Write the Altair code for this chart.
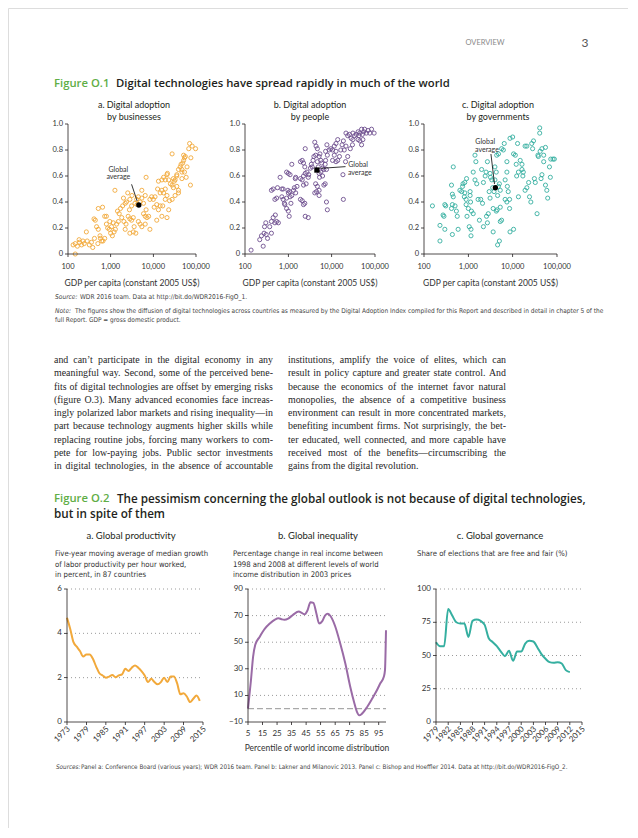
import altair as alt
import pandas as pd

# ---------------------------------------------------------------- page frame
W, H = 620, 820
M = 8  # page margin of the html body

SANS = "Lato, 'Open Sans', sans-serif"
HEAD = "'Open Sans', Lato, sans-serif"
NARROW = "'Liberation Sans Narrow', 'DejaVu Sans Condensed', sans-serif"
SERIF = "'Liberation Serif', 'Times New Roman', serif"

GREEN = "#5FAE46"
INK = "#231F20"
ORANGE = "#F2A93B"
PURPLE_PT = "#6E4F8E"
PURPLE_LN = "#9A6BA6"
TEAL = "#35AFA0"

# ---------------------------------------------------------------- data: Figure O.1
# log10 of GDP per capita (constant 2005 US$) and Digital Adoption Index subindex
A_LOGGDP = [2.17, 2.12, 2.17, 2.22, 2.27, 2.32, 2.35, 2.38, 2.26, 2.45, 2.50, 2.55, 2.43, 2.64, 2.61,
            2.67, 2.71, 2.75, 2.79, 2.70, 2.76, 2.82, 2.71, 2.81, 2.86, 2.90, 2.90, 2.93, 2.97, 3.00,
            3.04, 3.08, 3.11, 3.02, 3.06, 3.14, 3.18, 2.98, 3.10, 3.20, 3.23, 3.28, 3.34, 3.37, 3.26,
            3.31, 3.36, 3.34, 3.41, 3.45, 3.49, 3.53, 3.40, 3.45, 3.49, 3.44, 3.45, 3.53, 3.59, 3.55,
            3.65, 3.69, 3.73, 3.81, 3.61, 3.65, 3.69, 3.73, 3.77, 3.81, 3.83, 3.73, 3.77, 3.81, 3.85,
            3.89, 3.83, 3.92, 3.96, 4.00, 4.04, 4.08, 4.12, 4.16, 4.20, 4.22, 3.92, 4.08, 4.10, 4.16,
            4.20, 4.24, 4.28, 4.32, 4.28, 4.20, 4.24, 4.28, 4.32, 4.12, 4.36, 4.40, 4.44, 4.47, 4.49,
            4.55, 4.59, 4.51, 4.44, 4.38, 4.32, 4.36, 4.33, 4.44, 4.47, 4.55, 4.59, 4.63, 4.67, 4.65,
            4.69, 4.71, 4.73, 4.75, 4.71, 4.67, 4.73, 4.77, 4.83, 4.85, 4.91, 4.99, 4.88, 4.87, 4.79,
            4.55, 4.67, 4.51, 4.59, 2.58, 2.62, 2.86, 3.57, 3.62, 4.02, 3.16, 3.30, 3.50]
A_SCORE = [0.00, 0.07, 0.08, 0.06, 0.09, 0.07, 0.10, 0.08, 0.11, 0.10, 0.07, 0.09, 0.17, 0.26, 0.27,
           0.21, 0.19, 0.14, 0.10, 0.08, 0.12, 0.10, 0.35, 0.36, 0.29, 0.29, 0.23, 0.20, 0.19, 0.16,
           0.14, 0.17, 0.19, 0.21, 0.24, 0.23, 0.25, 0.25, 0.49, 0.31, 0.35, 0.37, 0.39, 0.40, 0.28,
           0.25, 0.23, 0.19, 0.29, 0.27, 0.26, 0.28, 0.47, 0.42, 0.37, 0.34, 0.16, 0.17, 0.16, 0.21,
           0.25, 0.23, 0.21, 0.23, 0.42, 0.44, 0.40, 0.43, 0.39, 0.45, 0.59, 0.49, 0.31, 0.29, 0.28,
           0.29, 0.34, 0.42, 0.44, 0.42, 0.44, 0.38, 0.34, 0.37, 0.29, 0.37, 0.19, 0.26, 0.50, 0.47,
           0.49, 0.47, 0.50, 0.45, 0.42, 0.57, 0.59, 0.57, 0.61, 0.56, 0.57, 0.54, 0.53, 0.51, 0.56,
           0.52, 0.49, 0.45, 0.42, 0.41, 0.28, 0.34, 0.62, 0.77, 0.58, 0.60, 0.65, 0.67, 0.65, 0.69,
           0.70, 0.72, 0.74, 0.75, 0.76, 0.63, 0.63, 0.59, 0.81, 0.85, 0.83, 0.81, 0.74, 0.53, 0.67,
           0.61, 0.58, 0.57, 0.47, 0.05, 0.12, 0.12, 0.39, 0.38, 0.36, 0.33, 0.43, 0.45]

B_LOGGDP = [2.14, 2.42, 2.34, 2.38, 2.44, 2.49, 2.45, 2.48, 2.52, 2.57, 2.61, 2.61, 2.65, 2.69, 2.70,
            2.73, 2.77, 2.61, 2.65, 2.69, 2.73, 2.75, 2.81, 2.85, 2.88, 2.85, 2.88, 2.91, 2.92, 2.96,
            2.99, 3.00, 3.03, 3.04, 3.06, 3.08, 3.12, 3.14, 3.17, 3.20, 3.16, 3.17, 2.96, 3.00, 3.04,
            3.08, 3.00, 3.02, 2.96, 3.28, 3.32, 3.35, 3.38, 3.39, 3.28, 3.32, 3.38, 3.28, 3.32, 3.35,
            3.39, 3.35, 3.41, 3.43, 3.46, 3.47, 3.51, 3.53, 3.55, 3.57, 3.59, 3.61, 3.64, 3.67, 3.63,
            3.67, 3.69, 3.71, 3.73, 3.75, 3.77, 3.79, 3.71, 3.72, 3.75, 3.79, 3.82, 3.85, 3.86, 3.88,
            3.90, 3.86, 3.63, 3.67, 3.71, 3.65, 3.61, 3.71, 3.82, 3.46, 3.39, 3.35, 3.89, 3.94, 3.98,
            4.02, 4.06, 4.10, 4.14, 4.10, 4.06, 4.02, 4.10, 4.14, 4.18, 4.21, 4.24, 4.27, 4.29, 4.33,
            4.37, 4.32, 4.33, 4.37, 4.41, 4.45, 4.49, 4.53, 4.57, 4.61, 4.63, 4.65, 4.69, 4.71, 4.74,
            4.76, 4.80, 4.84, 4.88, 4.92, 4.98, 4.61, 4.65, 4.69, 4.72, 4.49, 4.48, 4.43, 4.26, 4.27,
            3.88, 3.90, 3.85]
B_SCORE = [0.03, 0.06, 0.11, 0.14, 0.16, 0.15, 0.21, 0.24, 0.12, 0.21, 0.16, 0.25, 0.28, 0.24, 0.30,
           0.25, 0.24, 0.49, 0.50, 0.42, 0.43, 0.51, 0.59, 0.50, 0.50, 0.44, 0.42, 0.39, 0.38, 0.43,
           0.49, 0.47, 0.48, 0.44, 0.39, 0.45, 0.49, 0.51, 0.47, 0.52, 0.58, 0.59, 0.63, 0.62, 0.61,
           0.69, 0.33, 0.29, 0.35, 0.71, 0.72, 0.70, 0.67, 0.81, 0.42, 0.41, 0.39, 0.58, 0.57, 0.60,
           0.62, 0.53, 0.54, 0.63, 0.59, 0.61, 0.66, 0.69, 0.67, 0.72, 0.75, 0.86, 0.83, 0.81, 0.76,
           0.71, 0.67, 0.75, 0.77, 0.72, 0.70, 0.66, 0.62, 0.59, 0.63, 0.60, 0.65, 0.69, 0.72, 0.65,
           0.76, 0.79, 0.54, 0.52, 0.49, 0.48, 0.47, 0.45, 0.53, 0.28, 0.29, 0.38, 0.84, 0.80, 0.81,
           0.80, 0.83, 0.85, 0.88, 0.79, 0.76, 0.72, 0.71, 0.72, 0.75, 0.80, 0.84, 0.87, 0.80, 0.83,
           0.75, 0.71, 0.93, 0.91, 0.92, 0.89, 0.93, 0.91, 0.92, 0.94, 0.91, 0.93, 0.96, 0.92, 0.94,
           0.96, 0.93, 0.95, 0.93, 0.96, 0.93, 0.88, 0.87, 0.84, 0.88, 0.88, 0.84, 0.81, 0.61, 0.42,
           0.40, 0.34, 0.54]

C_LOGGDP = [2.19, 2.36, 2.36, 2.43, 2.45, 2.47, 2.49, 2.47, 2.62, 2.64, 2.66, 2.64, 2.62, 2.66, 2.64,
            2.70, 2.73, 2.75, 2.77, 2.81, 2.85, 2.87, 2.88, 2.91, 2.92, 2.95, 2.92, 2.96, 2.97, 2.95,
            3.00, 3.04, 3.04, 3.05, 3.02, 3.06, 3.06, 3.07, 3.11, 3.11, 3.15, 3.15, 3.19, 3.17, 3.22,
            3.25, 3.28, 3.30, 3.32, 3.34, 3.34, 3.38, 3.40, 3.43, 3.41, 3.43, 3.45, 3.47, 3.49, 3.50,
            3.49, 3.53, 3.55, 3.56, 3.58, 3.60, 3.60, 3.63, 3.63, 3.65, 3.66, 3.68, 3.70, 3.72, 3.72,
            3.64, 3.68, 3.75, 3.79, 3.81, 3.83, 3.87, 3.87, 3.88, 3.90, 3.93, 3.93, 3.94, 4.00, 4.02,
            4.06, 4.08, 4.09, 4.11, 4.13, 4.17, 4.21, 4.21, 4.23, 4.24, 4.28, 4.32, 4.28, 4.32, 4.36,
            4.38, 4.41, 4.43, 4.45, 4.47, 4.49, 4.51, 4.55, 4.57, 4.58, 4.61, 4.61, 4.62, 4.64, 4.66,
            4.66, 4.70, 4.70, 4.74, 4.74, 4.77, 4.79, 4.83, 4.85, 4.86, 4.91, 4.94, 4.02, 3.66, 3.70,
            3.75, 3.72, 3.83, 3.87, 4.13, 3.94, 3.56]
C_SCORE = [0.37, 0.10, 0.22, 0.30, 0.29, 0.38, 0.37, 0.19, 0.53, 0.46, 0.44, 0.38, 0.35, 0.67, 0.15,
           0.37, 0.33, 0.29, 0.19, 0.49, 0.48, 0.52, 0.54, 0.44, 0.47, 0.42, 0.55, 0.58, 0.29, 0.38,
           0.35, 0.45, 0.48, 0.40, 0.21, 0.19, 0.14, 0.33, 0.31, 0.63, 0.76, 0.57, 0.54, 0.71, 0.42,
           0.26, 0.42, 0.65, 0.39, 0.21, 0.55, 0.60, 0.63, 0.71, 0.29, 0.24, 0.31, 0.48, 0.43, 0.59,
           0.62, 0.57, 0.51, 0.35, 0.48, 0.57, 0.67, 0.63, 0.33, 0.34, 0.45, 0.52, 0.54, 0.49, 0.36,
           0.76, 0.77, 0.81, 0.80, 0.85, 0.57, 0.63, 0.71, 0.52, 0.48, 0.42, 0.35, 0.89, 0.90, 0.77,
           0.76, 0.69, 0.60, 0.85, 0.63, 0.72, 0.69, 0.65, 0.60, 0.63, 0.49, 0.51, 0.83, 0.83, 0.55,
           0.44, 0.40, 0.85, 0.81, 0.87, 0.58, 0.55, 0.31, 0.76, 0.75, 0.97, 0.93, 0.79, 0.58, 0.61,
           0.81, 0.71, 0.76, 0.82, 0.53, 0.49, 0.43, 0.67, 0.59, 0.73, 0.73, 0.73, 0.19, 0.07, 0.10,
           0.26, 0.25, 0.42, 0.40, 0.44, 0.17, 0.17]

# global averages (log10 GDP, score) and their callouts
AVG = {"a": (3.66, 0.377), "b": (3.66, 0.646), "c": (3.61, 0.51)}
AVG_LABEL_POS = {"a": [(3.18, 0.646), (3.18, 0.590)],
                 "b": [(4.61, 0.685), (4.65, 0.623)],
                 "c": [(3.38, 0.860), (3.42, 0.800)]}
AVG_ARROW = {"a": (3.49, 0.536, 3.62, 0.408),
             "b": (4.32, 0.672, 3.75, 0.659),
             "c": (3.51, 0.769, 3.59, 0.538)}
AVG_LABEL_TEXT = ["Global", "average"]

O1_XTICKS = [2, 3, 4, 5]
O1_XLABELS = ["100", "1,000", "10,000", "100,000"]
O1_YTICKS = [0, 0.2, 0.4, 0.6, 0.8, 1.0]
O1_YLABELS = ["0", "0.2", "0.4", "0.6", "0.8", "1.0"]

# ---------------------------------------------------------------- data: Figure O.2
PROD_YEAR = list(range(1973, 2015))
PROD_GROWTH = [4.7, 4.2, 3.6, 3.4, 3.2, 2.95, 3.05, 3.05, 2.85, 2.5, 2.2, 2.1, 2.0, 2.05, 2.12,
               2.02, 2.1, 2.15, 2.4, 2.3, 2.45, 2.55, 2.45, 2.3, 2.1, 1.8, 1.95, 1.8, 1.7, 1.8,
               2.0, 1.8, 2.05, 2.05, 1.75, 1.25, 1.3, 1.15, 0.9, 1.05, 1.2, 0.95]
PROD_XTICKS = [1973, 1979, 1985, 1991, 1997, 2003, 2009, 2015]
PROD_YTICKS = [0, 2, 4, 6]

INEQ_PCTILE = [5, 7, 8.5, 10, 13, 16.5, 20, 23.5, 26, 28, 30, 33, 36, 40, 42, 44, 46, 48, 50, 52,
               54, 56, 58, 60, 62, 65, 68.5, 72, 75.5, 78, 80, 81.6, 83.5, 87, 90.5, 94, 96, 98.5,
               99.3, 100]
INEQ_GAIN = [0, 21, 39, 48, 54, 60, 64, 67, 68, 67.3, 66.8, 68, 70.6, 73, 72, 71, 74, 80, 79.5, 72,
             64, 65.6, 70, 71.4, 69.3, 62, 49, 34, 16, 5, -2.4, -5, -3.7, 1.3, 7.6, 14.4, 19, 24,
             29, 59]
INEQ_XTICKS = [5, 15, 25, 35, 45, 55, 65, 75, 85, 95]
INEQ_YTICKS = [-10, 10, 30, 50, 70, 90]

GOV_YEAR = list(range(1979, 2013))
GOV_SHARE = [60, 57, 57, 85, 80, 75, 74, 74, 64, 76, 77, 76, 73, 63, 60, 57, 53, 49.5, 53.5, 46,
             53, 53, 59, 61, 60.5, 56, 51, 47.5, 45, 44.5, 45, 44, 39, 37.5]
GOV_XTICKS = list(range(1979, 2016, 3))
GOV_YTICKS = [0, 25, 50, 75, 100]

# ---------------------------------------------------------------- text content
FIG1_TITLE = "Digital technologies have spread rapidly in much of the world"
FIG1_PANELS = [["a. Digital adoption", "by businesses"],
               ["b. Digital adoption", "by people"],
               ["c. Digital adoption", "by governments"]]
SOURCE1 = "WDR 2016 team. Data at http://bit.do/WDR2016-FigO_1."
NOTE1 = ["The figures show the diffusion of digital technologies across countries as measured by the "
         "Digital Adoption Index compiled for this Report and described in detail in chapter 5 of the",
         "full Report. GDP = gross domestic product."]
BODY_LEFT = ["and can\u2019t participate in the digital economy in any",
             "meaningful way. Second, some of the perceived bene-",
             "fits of digital technologies are offset by emerging risks",
             "(figure O.3). Many advanced economies face increas-",
             "ingly polarized labor markets and rising inequality\u2014in",
             "part because technology augments higher skills while",
             "replacing routine jobs, forcing many workers to com-",
             "pete for low-paying jobs. Public sector investments",
             "in digital technologies, in the absence of accountable"]
BODY_RIGHT = ["institutions, amplify the voice of elites, which can",
              "result in policy capture and greater state control. And",
              "because the economics of the internet favor natural",
              "monopolies, the absence of a competitive business",
              "environment can result in more concentrated markets,",
              "benefiting incumbent firms. Not surprisingly, the bet-",
              "ter educated, well connected, and more capable have",
              "received most of the benefits\u2014circumscribing the",
              "gains from the digital revolution."]
FIG2_TITLE = ["The pessimism concerning the global outlook is not because of digital technologies,",
              "but in spite of them"]
FIG2_PANELS = ["a. Global productivity", "b. Global inequality", "c. Global governance"]
FIG2_DESC = [["Five-year moving average of median growth",
              "of labor productivity per hour worked,",
              "in percent, in 87 countries"],
             ["Percentage change in real income between",
              "1998 and 2008 at different levels of world",
              "income distribution in 2003 prices"],
             ["Share of elections that are free and fair (%)"]]
SOURCES2 = ("Panel a: Conference Board (various years); WDR 2016 team. Panel b: Lakner and Milanovic 2013. "
            "Panel c: Bishop and Hoeffler 2014. Data at http://bit.do/WDR2016-FigO_2.")

# ---------------------------------------------------------------- helpers
ONE = alt.Data(values=[{"k": 0}])


def text(x, y, s, size, font=SANS, color=INK, weight="normal", style="normal", align="left"):
    return alt.Chart(ONE).mark_text(
        text=s, fontSize=size, font=font, color=color, fontWeight=weight,
        fontStyle=style, align=align, baseline="middle"
    ).encode(x=alt.value(x - M), y=alt.value(y - M))


# Times-compatible advance widths (1/1000 em) for laying out justified serif body text
_TNR = {" ": 250, "!": 333, "'": 180, "(": 333, ")": 333, ",": 250, "-": 333, ".": 250, "/": 278,
        ":": 278, ";": 278, "?": 444, "\u2019": 333, "\u2014": 1000,
        "A": 722, "B": 667, "C": 667, "D": 722, "E": 611, "F": 556, "G": 722, "H": 722, "I": 333,
        "J": 389, "K": 722, "L": 611, "M": 889, "N": 722, "O": 722, "P": 556, "Q": 722, "R": 667,
        "S": 556, "T": 611, "U": 722, "V": 722, "W": 944, "X": 722, "Y": 722, "Z": 611,
        "a": 444, "b": 500, "c": 444, "d": 500, "e": 444, "f": 333, "g": 500, "h": 500, "i": 278,
        "j": 278, "k": 500, "l": 278, "m": 778, "n": 500, "o": 500, "p": 500, "q": 500, "r": 333,
        "s": 389, "t": 278, "u": 500, "v": 500, "w": 722, "x": 500, "y": 500, "z": 444}


def _wwidth(word, fs):
    return sum(_TNR.get(ch, 500) for ch in word) * fs / 1000.0


def justified_column(lines, x_left, col_w, y0, dy, fs, last_ragged=False):
    rows = []
    for i, line in enumerate(lines):
        words = line.split(" ")
        widths = [_wwidth(w, fs) for w in words]
        ragged = last_ragged and i == len(lines) - 1
        gap = 0.25 * fs if (ragged or len(words) < 2) else (col_w - sum(widths)) / (len(words) - 1)
        x = x_left
        for w, wd in zip(words, widths):
            rows.append({"word": w, "px": x - M, "py": y0 + i * dy - M})
            x += wd + gap
    df = pd.DataFrame(rows)
    return alt.Chart(df).mark_text(align="left", baseline="middle", font=SERIF, fontSize=fs,
                                   color="#262626").encode(
        x=alt.X("px:Q", scale=None, axis=None), y=alt.Y("py:Q", scale=None, axis=None),
        text="word:N")


def axis_layers(xs, ys, xdom, ydom, xt, xl, yt, yl, xsize, ysize, rotate=False, xlab_off=13,
                title=None, title_x=None, title_off=29):
    def XD(v):
        return alt.XDatum(v, type="quantitative", scale=xs, axis=None)

    def YD(v):
        return alt.YDatum(v, type="quantitative", scale=ys, axis=None)

    out = []
    out.append(alt.Chart(ONE).mark_rule(color=INK, strokeWidth=0.8).encode(
        x=XD(xdom[0]), x2=alt.X2Datum(xdom[1]), y=YD(ydom[0])))
    out.append(alt.Chart(ONE).mark_rule(color=INK, strokeWidth=0.8).encode(
        x=XD(xdom[0]), y=YD(ydom[0]), y2=alt.Y2Datum(ydom[1])))
    xdf = pd.DataFrame({"tick": xt, "label": xl})
    ydf = pd.DataFrame({"tick": yt, "label": yl})
    out.append(alt.Chart(xdf).mark_tick(orient="vertical", size=3, thickness=0.8, yOffset=1.5,
                                        color=INK, opacity=1).encode(
        x=alt.X("tick:Q", scale=xs, axis=None), y=YD(ydom[0])))
    out.append(alt.Chart(ydf).mark_tick(orient="horizontal", size=3, thickness=0.8, xOffset=-1.5,
                                        color=INK, opacity=1).encode(
        y=alt.Y("tick:Q", scale=ys, axis=None), x=XD(xdom[0])))
    if rotate:
        xlab = alt.Chart(xdf).mark_text(angle=315, align="right", baseline="middle", xOffset=2,
                                        yOffset=6, fontSize=xsize, font=SANS, color="#333333")
    else:
        xlab = alt.Chart(xdf).mark_text(align="center", baseline="middle", yOffset=xlab_off,
                                        fontSize=xsize, font=SANS, color="#333333")
    out.append(xlab.encode(x=alt.X("tick:Q", scale=xs, axis=None), y=YD(ydom[0]), text="label:N"))
    out.append(alt.Chart(ydf).mark_text(align="right", baseline="middle", xOffset=-5, fontSize=ysize,
                                        font=SANS, color="#333333").encode(
        y=alt.Y("tick:Q", scale=ys, axis=None), x=XD(xdom[0]), text="label:N"))
    if title:
        out.append(alt.Chart(ONE).mark_text(text=title, align="center", baseline="middle",
                                            yOffset=title_off, fontSize=8.5, font=SANS,
                                            color="#333333").encode(
            x=XD(title_x), y=YD(ydom[0])))
    return out


def scatter_panel(key, lg, sc, color, x0, x1, shape):
    y_top, y_bot = 124, 254
    xs = alt.Scale(domain=[2, 5], range=[x0 - M, x1 - M], nice=False, zero=False)
    ys = alt.Scale(domain=[0, 1], range=[y_bot - M, y_top - M], nice=False, zero=False)
    df = pd.DataFrame({"log10_gdp": lg, "score": sc})
    pts = alt.Chart(df).mark_point(filled=False, size=17, strokeWidth=0.9, color=color, opacity=1).encode(
        x=alt.X("log10_gdp:Q", scale=xs, axis=None),
        y=alt.Y("score:Q", scale=ys, axis=None))
    ax, ay = AVG[key]
    avg_df = pd.DataFrame({"log10_gdp": [ax], "score": [ay]})
    avg = alt.Chart(avg_df).mark_point(filled=True, size=28, color="black", shape=shape, opacity=1).encode(
        x=alt.X("log10_gdp:Q", scale=xs, axis=None), y=alt.Y("score:Q", scale=ys, axis=None))
    sx, sy, ex, ey = AVG_ARROW[key]
    arr_df = pd.DataFrame({"x1": [sx], "y1": [sy], "x2": [ex], "y2": [ey]})
    arrow = alt.Chart(arr_df).mark_rule(color="black", strokeWidth=0.8).encode(
        x=alt.X("x1:Q", scale=xs, axis=None), y=alt.Y("y1:Q", scale=ys, axis=None),
        x2="x2:Q", y2="y2:Q")
    lab_df = pd.DataFrame({"log10_gdp": [p[0] for p in AVG_LABEL_POS[key]],
                           "score": [p[1] for p in AVG_LABEL_POS[key]],
                           "label": AVG_LABEL_TEXT})
    labels = alt.Chart(lab_df).mark_text(fontSize=7, font=SANS, color="#333333", align="center",
                                         baseline="middle").encode(
        x=alt.X("log10_gdp:Q", scale=xs, axis=None), y=alt.Y("score:Q", scale=ys, axis=None),
        text="label:N")
    axes = axis_layers(xs, ys, [2, 5], [0, 1], O1_XTICKS, O1_XLABELS, O1_YTICKS, O1_YLABELS,
                       7.5, 7.5, xlab_off=13, title="GDP per capita (constant 2005 US$)",
                       title_x=3.5, title_off=29)
    return alt.layer(pts, arrow, avg, labels, *axes)


def fmt_num(v):
    return ("\u2212" + str(abs(v))) if v < 0 else str(v)


def line_panel(xvals, yvals, xname, yname, color, x0, x1, xdom, ydom, xticks, yticks, rotate,
               xtitle=None, zero_line=False):
    y_top, y_bot = 589, 722
    xs = alt.Scale(domain=xdom, range=[x0 - M, x1 - M], nice=False, zero=False)
    ys = alt.Scale(domain=ydom, range=[y_bot - M, y_top - M], nice=False, zero=False)
    df = pd.DataFrame({xname: xvals, yname: yvals})
    grid = alt.Chart(pd.DataFrame({"g": yticks[1:]})).mark_rule(
        color="#9a9a9a", strokeWidth=1, strokeDash=[1, 3]).encode(
        y=alt.Y("g:Q", scale=ys, axis=None),
        x=alt.XDatum(xdom[0], type="quantitative", scale=xs, axis=None),
        x2=alt.X2Datum(xdom[1]))
    parts = [grid]
    if zero_line:
        parts.append(alt.Chart(ONE).mark_rule(color="#8a8a8a", strokeWidth=0.9, strokeDash=[6, 3]).encode(
            y=alt.YDatum(0, type="quantitative", scale=ys, axis=None),
            x=alt.XDatum(xdom[0], type="quantitative", scale=xs, axis=None),
            x2=alt.X2Datum(xdom[1])))
    line = alt.Chart(df).mark_line(color=color, strokeWidth=2, interpolate="monotone").encode(
        x=alt.X(f"{xname}:Q", scale=xs, axis=None),
        y=alt.Y(f"{yname}:Q", scale=ys, axis=None))
    parts.append(line)
    parts += axis_layers(xs, ys, xdom, ydom, xticks, [fmt_num(v) for v in xticks],
                         yticks, [fmt_num(v) for v in yticks],
                         8 if rotate else 8, 8, rotate=rotate, xlab_off=12,
                         title=xtitle, title_x=(xdom[0] + xdom[1]) / 2, title_off=26)
    return alt.layer(*parts)


# ---------------------------------------------------------------- assemble
layers = []
# running head
layers.append(text(485, 43, "OVERVIEW", 7.5, color="#8a8a8a", align="center"))
layers.append(text(585, 43, "3", 12, color="#555555", align="center"))

# Figure O.1
layers.append(text(54, 84, "Figure O.1", 11.3, font=HEAD, color=GREEN, weight=600))
layers.append(text(116, 84, FIG1_TITLE, 11.3, font=HEAD, weight=600))
for (l1, l2), cx in zip(FIG1_PANELS, [134, 310, 498]):
    layers.append(text(cx, 105, l1, 9, align="center"))
    layers.append(text(cx, 117, l2, 9, align="center"))

layers.append(scatter_panel("a", A_LOGGDP, A_SCORE, ORANGE, 68, 196, "circle"))
layers.append(scatter_panel("b", B_LOGGDP, B_SCORE, PURPLE_PT, 245, 375, "square"))
layers.append(scatter_panel("c", C_LOGGDP, C_SCORE, TEAL, 424, 557, "circle"))

layers.append(text(55, 297, "Source:", 6.6, font=NARROW, style="italic", color="#444444"))
layers.append(text(80, 297, SOURCE1, 6.6, font=NARROW, color="#444444"))
layers.append(text(55, 311, "Note:", 6.6, font=NARROW, style="italic", color="#444444"))
layers.append(text(75, 311, NOTE1[0], 6.5, font=NARROW, color="#444444"))
layers.append(text(55, 320, NOTE1[1], 6.5, font=NARROW, color="#444444"))

# body text (two justified columns)
layers.append(justified_column(BODY_LEFT, 54, 219, 360, 13.25, 9.9))
layers.append(justified_column(BODY_RIGHT, 288, 218, 360, 13.25, 9.9, last_ragged=True))

# Figure O.2
layers.append(text(54, 499, "Figure O.2", 11.3, font=HEAD, color=GREEN, weight=600))
layers.append(text(117, 499, FIG2_TITLE[0], 11.7, font=HEAD, weight=600))
layers.append(text(54, 514, FIG2_TITLE[1], 11.7, font=HEAD, weight=600))
for t, cx in zip(FIG2_PANELS, [131, 318, 500]):
    layers.append(text(cx, 536, t, 9.5, align="center"))
for lines, x in zip(FIG2_DESC, [55, 233, 417]):
    for j, s in enumerate(lines):
        layers.append(text(x, 554 + j * 10.5, s, 7.7, font=NARROW, color="#333333"))

layers.append(line_panel(PROD_YEAR, PROD_GROWTH, "year", "growth", ORANGE, 67, 203,
                         [1973, 2015], [0, 6], PROD_XTICKS, PROD_YTICKS, True))
layers.append(line_panel(INEQ_PCTILE, INEQ_GAIN, "percentile", "gain", PURPLE_LN, 248, 386,
                         [5, 100], [-10, 90], INEQ_XTICKS, INEQ_YTICKS, False,
                         xtitle="Percentile of world income distribution", zero_line=True))
layers.append(line_panel(GOV_YEAR, GOV_SHARE, "year", "share", TEAL, 436, 582,
                         [1979, 2015], [0, 100], GOV_XTICKS, GOV_YTICKS, True))

layers.append(text(56, 767, "Sources:", 6.3, font=NARROW, style="italic", color="#444444"))
layers.append(text(81, 767, SOURCES2, 6.3, font=NARROW, color="#444444"))

chart = alt.layer(*layers).resolve_scale(x="independent", y="independent").properties(
    width=W, height=H, padding=0, autosize=alt.AutoSizeParams(type="none")
).configure_view(stroke=None).configure(font=SANS, background="white")

chart.save("out.html", embed_options={"renderer": "svg", "actions": False})
